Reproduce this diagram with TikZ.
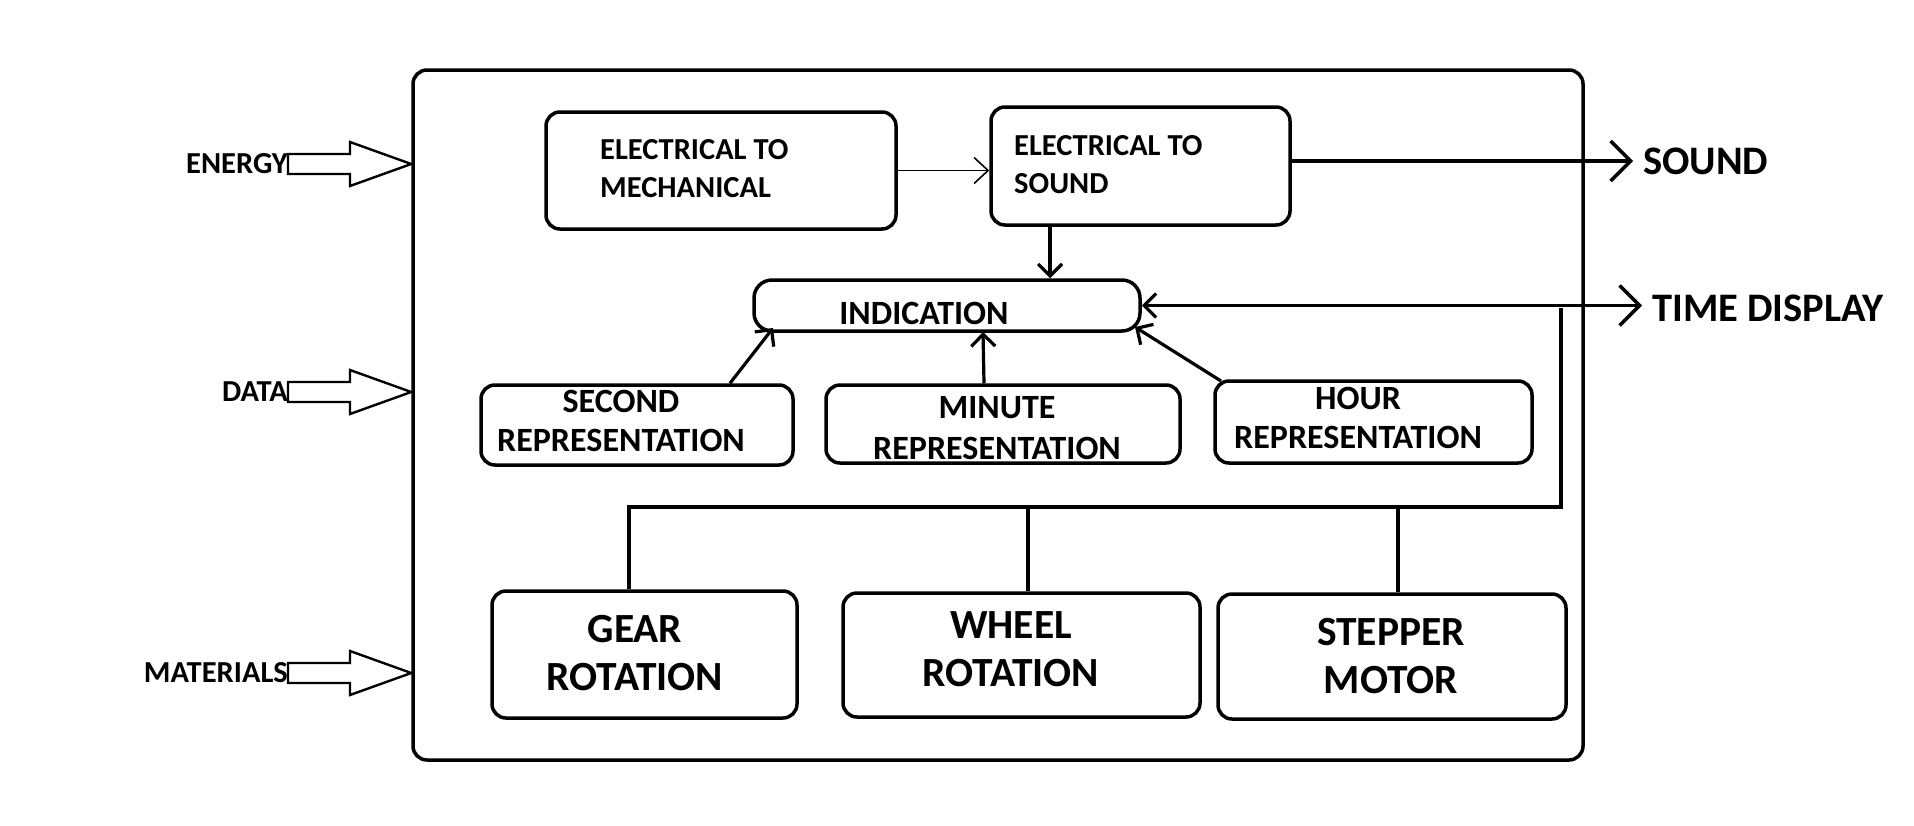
\documentclass[tikz,border=0pt]{standalone}
\usepackage{fontspec}
\setmainfont{Carlito}
\usetikzlibrary{arrows.meta}
\begin{document}
\begin{tikzpicture}[x=1pt,y=-1pt,
  box/.style={draw,line width=3.5pt,rounded corners=14pt,inner sep=0pt},
  smalltxt/.style={font=\fontsize{30.5}{38}\selectfont\bfseries,inner sep=0pt},
  reptxt/.style={font=\fontsize{34}{39}\selectfont\bfseries,inner sep=0pt},
  bigtxt/.style={font=\fontsize{41.5}{48}\selectfont\bfseries,inner sep=0pt},
  outtxt/.style={font=\fontsize{40.5}{48}\selectfont\bfseries,inner sep=0pt},
  conn/.style={line width=3.2pt},
  arr/.style={line width=3.2pt,-{Straight Barb[length=12pt,width=24pt,line width=3.2pt]}},
  bigarr/.style={line width=3.5pt,-{Straight Barb[length=20pt,width=40pt,line width=3.5pt]}},
  thinarr/.style={line width=1.6pt,-{Straight Barb[length=14pt,width=26pt,line width=1.6pt]}},
  blockarr/.style={draw,line width=2.4pt,fill=white}
]
\useasboundingbox (0,0) rectangle (1914,825);
\fill[white] (0,0) rectangle (1914,825);

% outer system box
\node[box,minimum width=1170pt,minimum height=690pt] (sys) at (998,415) {};

% inner boxes
\node[box,minimum width=350pt,minimum height=117pt] (e2m) at (721,170.5) {};
\node[box,minimum width=299pt,minimum height=118pt] (e2s) at (1140.5,166) {};
\node[box,rounded corners=18pt,minimum width=386pt,minimum height=51pt] (ind) at (947,305.5) {};
\node[box,minimum width=312pt,minimum height=80pt] (sec) at (637,425) {};
\node[box,minimum width=354pt,minimum height=78pt] (min) at (1003,424) {};
\node[box,minimum width=317pt,minimum height=82pt] (hour) at (1373.5,422) {};
\node[box,minimum width=305pt,minimum height=127pt] (gear) at (644.5,654.5) {};
\node[box,minimum width=357pt,minimum height=124pt] (wheel) at (1021.5,655) {};
\node[box,minimum width=348pt,minimum height=125pt] (step) at (1392,656.5) {};

% texts
\node[smalltxt,align=left,anchor=west] (e2mt) at (600,168.5) {ELECTRICAL TO\\MECHANICAL};
\node[smalltxt,align=left,anchor=west] (e2st) at (1014,165) {ELECTRICAL TO\\SOUND};
\node[reptxt] (indt) at (924,313) {INDICATION};
\node[reptxt,align=center] (sect) at (621,421) {SECOND\\REPRESENTATION};
\node[reptxt,align=center,font=\fontsize{34}{41}\selectfont\bfseries] (mint) at (997,428) {MINUTE\\REPRESENTATION};
\node[reptxt,align=center] (hourt) at (1358,418) {HOUR\\REPRESENTATION};
\node[bigtxt,align=center] (geart) at (635,653) {GEAR\\ROTATION};
\node[bigtxt,align=center] (wheelt) at (1011,649) {WHEEL\\ROTATION};
\node[bigtxt,align=center] (stept) at (1391,656) {STEPPER\\MOTOR};

% outputs
\node[outtxt,anchor=west,inner xsep=10pt] (sound) at (1633,161) {SOUND};
\node[outtxt,anchor=west,inner xsep=10pt] (time) at (1642,308) {TIME DISPLAY};

% inputs
\node[smalltxt,anchor=east] (energy) at (288,164) {ENERGY};
\node[smalltxt,anchor=east] (data) at (288,392) {DATA};
\node[smalltxt,anchor=east] (mat) at (288,673) {MATERIALS};
\foreach \n/\yy in {energy/164,data/392,mat/673}{
  \draw[blockarr] (\n.east |- 0,\yy-10) -- (350,\yy-10) -- (350,\yy-22) -- (sys.west |- 0,\yy)
     -- (350,\yy+22) -- (350,\yy+10) -- (\n.east |- 0,\yy+10) -- cycle;
}

% connectors
\draw[thinarr] (e2m.east) -- (e2m.east -| e2s.west);
\draw[bigarr] (e2s.east |- sound.west) -- (sound.west);
\coordinate (dx) at (1050,0);
\draw[arr] (e2s.south -| dx) -- (ind.north -| dx);
\draw[bigarr,{Straight Barb[length=12pt,width=24pt,line width=3.2pt]}-{Straight Barb[length=20pt,width=40pt,line width=3.5pt]}] (ind.east) -- (ind.east -| time.west);

\coordinate (j) at (1561,308);
\coordinate (busR) at (1561,507);
\coordinate (busL) at (629,507);
\draw[conn] (j) -- (busR) -- (busL) -- (busL |- gear.north);
\draw[conn] (1028,507) -- (wheel.north -| 1028,0);
\draw[conn] (1398,507) -- (step.north -| 1398,0);

\coordinate (st) at (773,328);
\coordinate (mt) at (983,332);
\coordinate (ht) at (1135,327);
\draw[arr] (sec.north -| 730,0) -- (st);
\draw[arr] (min.north -| 984,0) -- (mt);
\draw[arr] (1221,381) -- (ht);
\end{tikzpicture}
\end{document}
